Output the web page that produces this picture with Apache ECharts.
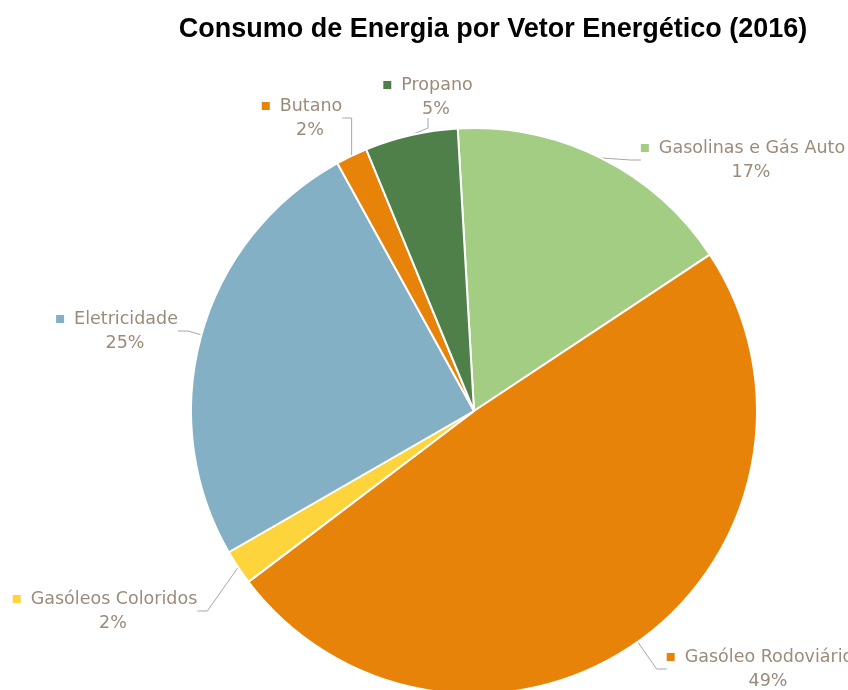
<!DOCTYPE html>
<html>
<head>
<meta charset="utf-8">
<script src="https://cdn.jsdelivr.net/npm/echarts@6/dist/echarts.min.js"></script>
<style>
  html, body { margin: 0; padding: 0; background: #fff; }
  #chart { width: 848px; height: 690px; }
</style>
</head>
<body>
<div id="chart"></div>
<script>
  // vetores energéticos, pela ordem do gráfico (sentido horário a partir do topo)
  var categories = ['Gasolinas e Gás Auto', 'Gasóleo Rodoviário', 'Gasóleos Coloridos', 'Eletricidade', 'Butano', 'Propano'];
  var values = [16.6, 49.0, 2.0, 25.3, 1.8, 5.3];
  var colors = ['#A3CD82', '#E8830A', '#FDD43C', '#84B0C5', '#E8830A', '#4F8049'];

  // centro de cada caixa de etiqueta (px)
  var labelSpots = [[743, 160], [760, 669], [105, 611], [117, 331], [302, 118], [428, 97]];

  var chart = echarts.init(document.getElementById('chart'));

  var rich = {
    name: { fontSize: 17.5, color: '#9C8B79', fontFamily: 'DejaVu Sans', lineHeight: 24 },
    pct: { fontSize: 17.5, color: '#9C8B79', fontFamily: 'DejaVu Sans', lineHeight: 24, padding: [0, 0, 0, 16] }
  };
  categories.forEach(function (c, i) {
    rich['sq' + i] = { width: 8, height: 8, backgroundColor: colors[i] };
  });

  chart.setOption({
    title: {
      text: 'Consumo de Energia por Vetor Energético (2016)',
      left: 488,
      top: 11,
      textAlign: 'center',
      textStyle: { fontFamily: 'Liberation Sans', fontSize: 27, fontWeight: 'bold', color: '#000' }
    },
    series: [{
      type: 'pie',
      center: [474, 411],
      radius: 283,
      startAngle: 93.3,
      clockwise: true,
      percentPrecision: 0,
      animation: false,
      itemStyle: { borderColor: '#fff', borderWidth: 2 },
      label: {
        show: true,
        position: 'outside',
        overflow: 'none',
        formatter: function (p) {
          return '{sq' + p.dataIndex + '|}   {name|' + p.name + '}\n{pct|' + p.percent + '%}';
        },
        rich: rich
      },
      labelLine: { show: true, lineStyle: { color: '#A6A6A6', width: 1 }, length: 15, length2: 10 },
      labelLayout: function (params) {
        var s = labelSpots[params.dataIndex];
        return { x: s[0], y: s[1], align: 'center', verticalAlign: 'middle' };
      },
      data: categories.map(function (c, i) {
        return { name: c, value: values[i], itemStyle: { color: colors[i] } };
      })
    }]
  });
</script>
</body>
</html>
